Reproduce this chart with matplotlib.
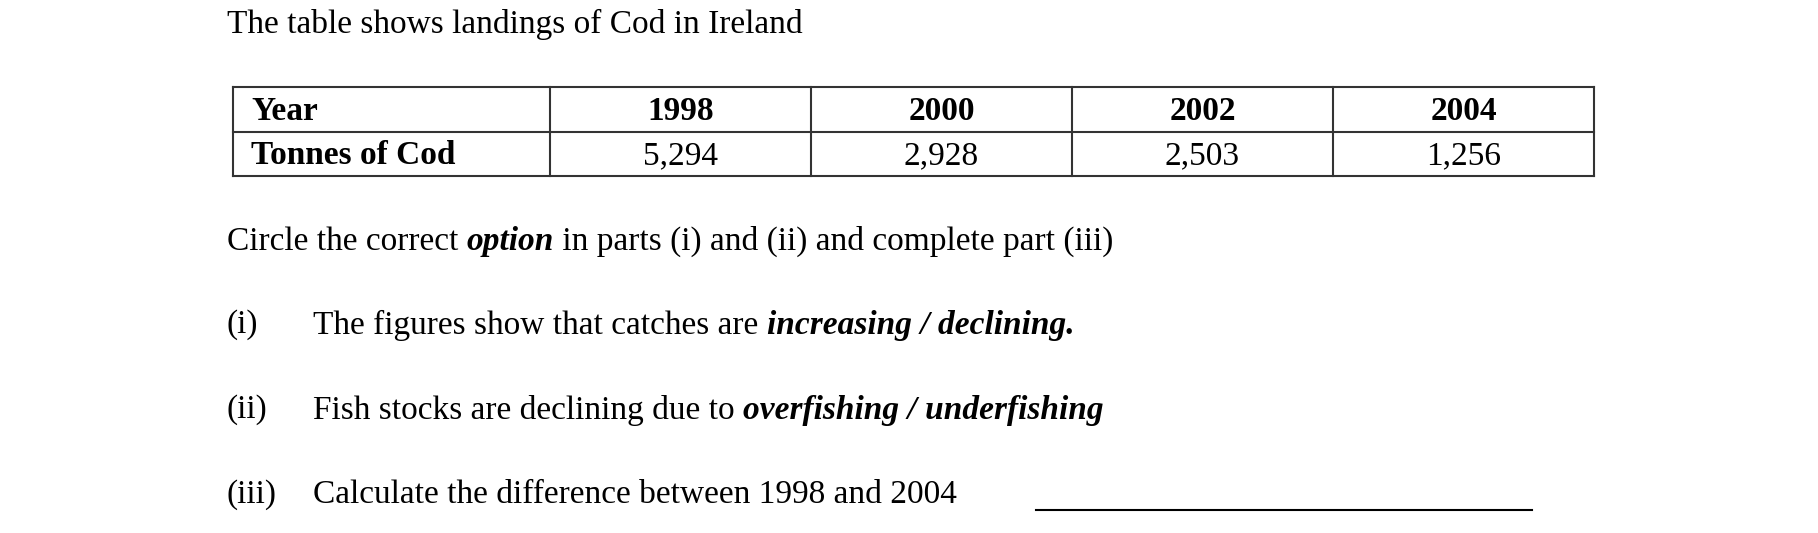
import matplotlib
matplotlib.use('Agg')
import matplotlib.pyplot as plt

years = ["1998", "2000", "2002", "2004"]
tonnes = ["5,294", "2,928", "2,503", "1,256"]
title = "The table shows landings of Cod in Ireland"

plt.rcParams['font.family'] = ['Liberation Serif', 'DejaVu Serif']
fs = 24

fig = plt.figure(figsize=(18.18, 5.33), dpi=100)
ax = fig.add_axes([0, 0, 1, 1])
ax.set_xlim(0, 1818)
ax.set_ylim(533, 0)
ax.axis('off')

ax.text(227, 24, title, fontsize=fs, va='center')

# table grid
cols = [233, 550, 811, 1072, 1333, 1594]
rows = [87, 132, 176]
for y in rows:
    ax.plot([cols[0], cols[-1]], [y, y], color='#333333', lw=1.5)
for x in cols:
    ax.plot([x, x], [rows[0], rows[-1]], color='#333333', lw=1.5)
ymid1 = (rows[0] + rows[1]) / 2 + 2
ymid2 = (rows[1] + rows[2]) / 2 + 2
ax.text(cols[0] + 18, ymid1, "Year", fontsize=fs, weight='bold', va='center')
ax.text(cols[0] + 18, ymid2, "Tonnes of Cod", fontsize=fs, weight='bold', va='center')
for i, (yr, t) in enumerate(zip(years, tonnes)):
    cx = (cols[i + 1] + cols[i + 2]) / 2
    ax.text(cx, ymid1, yr, fontsize=fs, weight='bold', ha='center', va='center')
    ax.text(cx, ymid2, t, fontsize=fs, ha='center', va='center')

def line(x, y, parts):
    # parts: list of (text, style, weight)
    t = None
    for s, style, weight in parts:
        if t is None:
            t = ax.text(x, y, s, fontsize=fs, style=style, weight=weight, va='center')
        else:
            t = ax.annotate(s, xycoords=t, xy=(1, 0), va='bottom', fontsize=fs,
                            style=style, weight=weight)
    return t

line(227, 242, [("Circle the correct ", 'normal', 'normal'),
                ("option", 'italic', 'bold'),
                (" in parts (i) and (ii) and complete part (iii)", 'normal', 'normal')])
ax.text(227, 325, "(i)", fontsize=fs, va='center')
line(313, 325, [("The figures show that catches are ", 'normal', 'normal'),
                ("increasing / declining.", 'italic', 'bold')])
ax.text(227, 410, "(ii)", fontsize=fs, va='center')
line(313, 410, [("Fish stocks are declining due to ", 'normal', 'normal'),
                ("overfishing / underfishing", 'italic', 'bold')])
ax.text(227, 495, "(iii)", fontsize=fs, va='center')
ax.text(313, 495, "Calculate the difference between 1998 and 2004", fontsize=fs, va='center')
ax.plot([1036, 1532], [510, 510], color='black', lw=1.5)

fig.savefig("out.png", dpi=100)
